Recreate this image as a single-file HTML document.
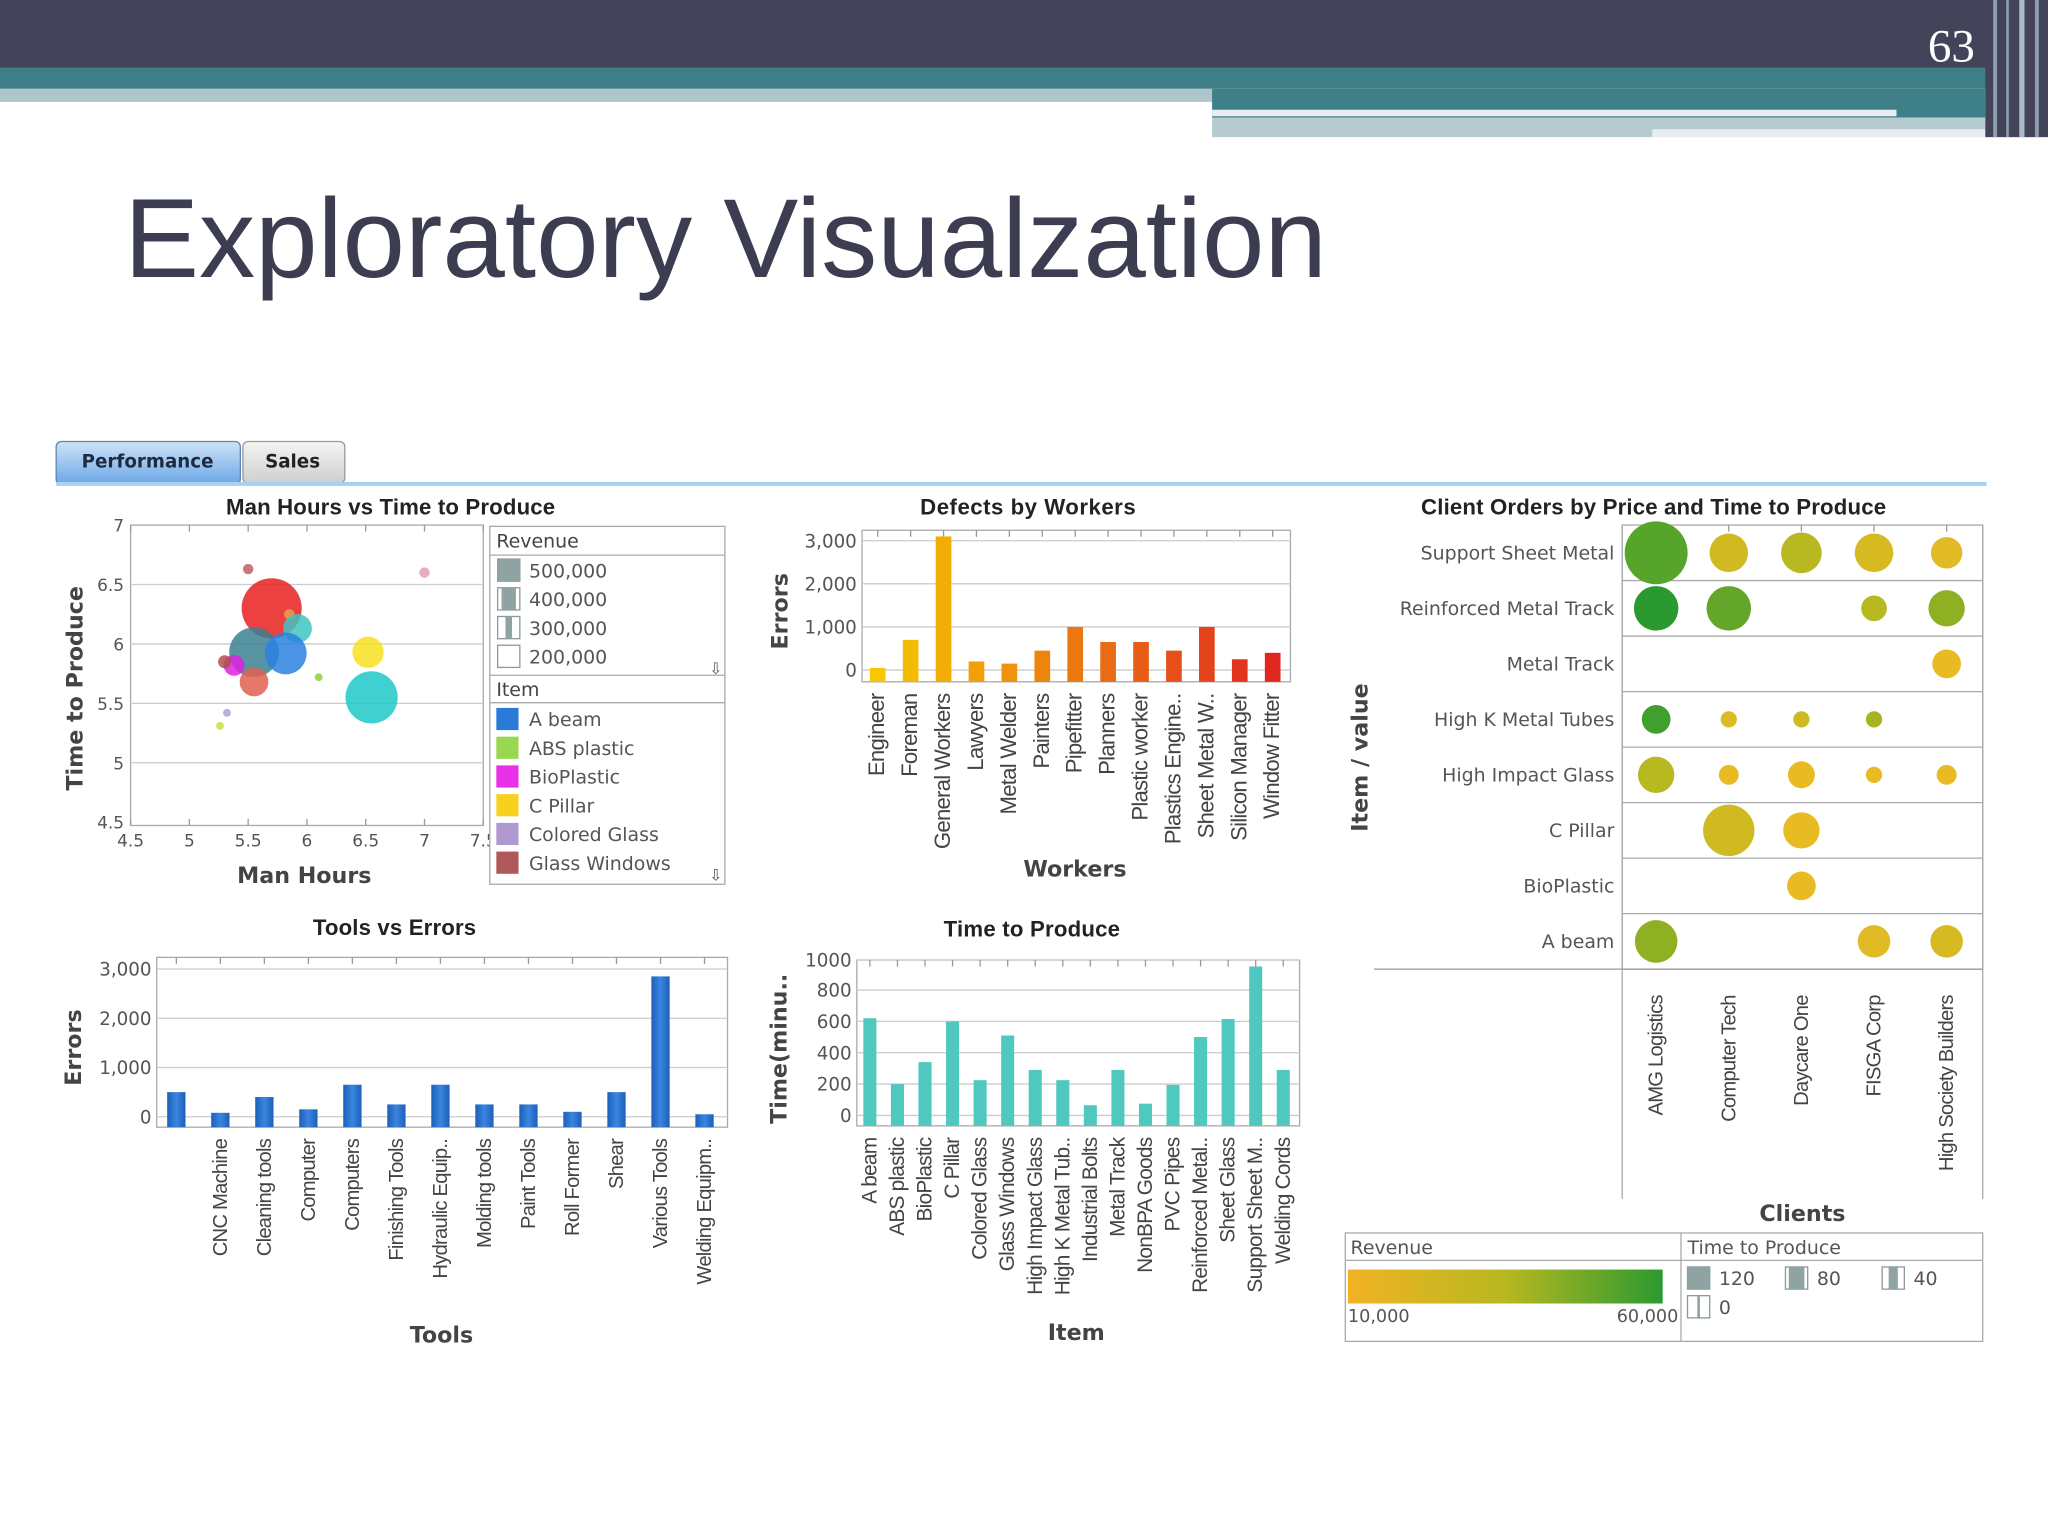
<!DOCTYPE html>
<html><head><meta charset="utf-8"><style>
html,body{margin:0;padding:0;background:#fff;}
svg{display:block;}
text{font-family:"DejaVu Sans","Liberation Sans",sans-serif;}
.ttl{font-family:"Liberation Sans",sans-serif;}
</style></head><body>
<svg id="s" width="2048" height="1536" viewBox="0 0 1568 1176" xmlns="http://www.w3.org/2000/svg">
<defs>
<linearGradient id="tabg" x1="0" y1="0" x2="0" y2="1"><stop offset="0" stop-color="#cfe3f7"/><stop offset="1" stop-color="#6aa6e6"/></linearGradient>
<linearGradient id="tabs" x1="0" y1="0" x2="0" y2="1"><stop offset="0" stop-color="#f4f4f4"/><stop offset="1" stop-color="#cfcfcf"/></linearGradient>
<linearGradient id="revg" x1="0" y1="0" x2="1" y2="0"><stop offset="0" stop-color="#f2b224"/><stop offset="0.5" stop-color="#b8b820"/><stop offset="1" stop-color="#2a9a30"/></linearGradient>
<linearGradient id="blueb" x1="0" y1="0" x2="1" y2="0"><stop offset="0" stop-color="#1c5fb8"/><stop offset="0.5" stop-color="#3a86e0"/><stop offset="1" stop-color="#1c5fb8"/></linearGradient>
</defs>
<g>
<rect x="0" y="0" width="1568" height="52" fill="#43435a"/>
<rect x="0" y="52" width="1568" height="16" fill="#3f7f87"/>
<rect x="0" y="68" width="928" height="10" fill="#adc6cc"/>
<rect x="928" y="68" width="592" height="22" fill="#3f7f87"/>
<rect x="928" y="84" width="524" height="5" fill="#e8eef0"/>
<rect x="928" y="90" width="592" height="15" fill="#b5cbd0"/>
<rect x="1265" y="99" width="255" height="6" fill="#e8eef0"/>
<rect x="1520" y="0" width="48" height="105" fill="#43435a"/>
<rect x="1526" y="0" width="3" height="105" fill="#8ea0b0"/>
<rect x="1536" y="0" width="2" height="105" fill="#8ea0b0"/>
<rect x="1546" y="0" width="4" height="105" fill="#a8bcc4"/>
<rect x="1558" y="0" width="3" height="105" fill="#8ea0b0"/>
<text x="1494" y="47" fill="#fff" font-size="36" text-anchor="middle" style="font-family:'Liberation Serif',serif">63</text>
</g>
<text class="ttl" x="95" y="212" font-size="86" fill="#3d3d52">Exploratory Visualzation</text>
<g><rect x="43" y="338" width="141" height="33" rx="4" fill="url(#tabg)" stroke="#5b87b8"/><text x="113" y="358" font-size="14" font-weight="bold" fill="#1e2a40" text-anchor="middle">Performance</text></g>
<g><rect x="186" y="338" width="78" height="32" rx="4" fill="url(#tabs)" stroke="#999"/><text x="224" y="358" font-size="14" font-weight="bold" fill="#222" text-anchor="middle">Sales</text></g>
<rect x="43" y="369" width="1478" height="3" fill="#a8d0f0"/>

<g id="c1"></g>
<g id="c2"></g>
<g id="c3"></g>
<g id="c4"></g>
<g id="c5"></g>
</svg>
<script>
const scatterX=[5.5,5.7,5.85,5.92,5.55,5.82,5.55,5.38,5.3,6.1,6.52,6.55,5.32,5.26,7.0];
const scatterY=[6.63,6.3,6.25,6.13,5.93,5.92,5.68,5.82,5.85,5.72,5.93,5.55,5.42,5.31,6.6];
const scatterR=[4,23,4,11,19,16,11,8,5,3,12,20,3,3,4];
const scatterC=["#c06060","#e82020","#e8a050","#40c4c4","#3a8090","#2a80e0","#e06050","#e020e0","#b05050","#90d040","#f8e020","#20c8c8","#b0a0d0","#c8e040","#e0a0b0"];
const scatterXTicks=[4.5,5,5.5,6,6.5,7,7.5];
const scatterYTicks=[4.5,5,5.5,6,6.5,7];
const revLegend=["500,000","400,000","300,000","200,000"];
const itemLegend=["A beam","ABS plastic","BioPlastic","C Pillar","Colored Glass","Glass Windows"];
const itemColors=["#2a7ad8","#98d850","#e830e8","#f8d020","#b098d0","#b05858"];

const workers=["Engineer","Foreman","General Workers","Lawyers","Metal Welder","Painters","Pipefitter","Planners","Plastic worker","Plastics Engine..","Sheet Metal W..","Silicon Manager","Window Fitter"];
const defects=[50,700,3100,200,150,450,1000,650,650,450,1000,250,400];
const defectTicks=[0,1000,2000,3000];

const tools=["","CNC Machine","Cleaning tools","Computer","Computers","Finishing Tools","Hydraulic Equip..","Molding tools","Paint Tools","Roll Former","Shear","Various Tools","Welding Equipm.."];
const toolErrors=[500,80,400,150,650,250,650,250,250,100,500,2850,50];
const toolTicks=[0,1000,2000,3000];

const items=["A beam","ABS plastic","BioPlastic","C Pillar","Colored Glass","Glass Windows","High Impact Glass","High K Metal Tub..","Industrial Bolts","Metal Track","NonBPA Goods","PVC Pipes","Reinforced Metal..","Sheet Glass","Support Sheet M..","Welding Cords"];
const itemTimes=[620,200,340,600,225,510,290,225,65,290,75,195,500,615,950,290];
const timeTicks=[0,200,400,600,800,1000];

const rowsC=["Support Sheet Metal","Reinforced Metal Track","Metal Track","High K Metal Tubes","High Impact Glass","C Pillar","BioPlastic","A beam"];
const clients=["AMG Logistics","Computer Tech","Daycare One","FISGA Corp","High Society Builders"];
const bubRow=[0,0,0,0,0,1,1,1,1,2,3,3,3,3,4,4,4,4,4,5,5,6,7,7,7];
const bubCol=[0,1,2,3,4,0,1,3,4,4,0,1,2,3,0,1,2,3,4,1,2,2,0,3,4];
const bubTime=[120,45,50,45,30,60,60,20,40,25,25,8,8,8,40,12,22,8,12,80,40,25,55,32,32];
const bubRev=[52000,25000,35000,22000,18000,60000,50000,35000,42000,15000,56000,20000,25000,38000,35000,15000,15000,15000,15000,25000,15000,15000,42000,18000,22000];

const NS="http://www.w3.org/2000/svg";
function mk(p,tag,at,txt){const e=document.createElementNS(NS,tag);for(const k in at)e.setAttribute(k,at[k]);if(txt!==undefined)e.textContent=txt;p.appendChild(e);return e;}
function lerpC(a,b,t){const pa=[1,3,5].map(i=>parseInt(a.substr(i,2),16)),pb=[1,3,5].map(i=>parseInt(b.substr(i,2),16));return "rgb("+pa.map((v,i)=>Math.round(v+(pb[i]-v)*t)).join(",")+")";}

(function(){
const g=document.getElementById('c1');
const X0=100,X1=370,Y0=402,Y1=632;
const sx=v=>X0+(v-4.5)/3*(X1-X0), sy=v=>493-(v-6)*91;
const t=mk(g,'text',{x:299,y:394,'font-size':17,'text-anchor':'middle',fill:'#222','class':'ttl','font-weight':'bold','textLength':252});
t.textContent='Man Hours vs Time to Produce';

mk(g,'rect',{x:X0,y:Y0,width:X1-X0,height:Y1-Y0,fill:'#fff',stroke:'#aaa'});
scatterYTicks.forEach(v=>{const y=sy(v);
 if(v>4.5&&v<7)mk(g,'line',{x1:X0,x2:X1,y1:y,y2:y,stroke:'#ccc'});
 const l=mk(g,'text',{x:95,y:y+5,'font-size':13,'text-anchor':'end',fill:'#555'},String(v));
 });
scatterXTicks.forEach(v=>{const x=sx(v);
 mk(g,'line',{x1:x,x2:x,y1:Y0,y2:Y0+5,stroke:'#999'});mk(g,'line',{x1:x,x2:x,y1:Y1,y2:Y1-5,stroke:'#999'});
 const l=mk(g,'text',{x:x,y:648,'font-size':13,'text-anchor':'middle',fill:'#555'},String(v));
 });
scatterX.forEach((v,i)=>{const c=mk(g,'circle',{cx:sx(v),cy:sy(scatterY[i]),r:scatterR[i],fill:scatterC[i],'fill-opacity':0.85});
 });
const xt=mk(g,'text',{x:233,y:676,'font-size':17,'font-weight':'bold','text-anchor':'middle',fill:'#444'},'Man Hours');

const yt=mk(g,'text',{x:0,y:0,'font-size':17,'font-weight':'bold','text-anchor':'middle',fill:'#444',transform:'translate(63,527) rotate(-90)'},'Time to Produce');

const lg=mk(g,'g',{});
mk(lg,'rect',{x:375,y:403,width:180,height:274,fill:'#fff',stroke:'#aaa'});
mk(lg,'line',{x1:375,x2:555,y1:425,y2:425,stroke:'#aaa'});
mk(lg,'line',{x1:375,x2:555,y1:517,y2:517,stroke:'#aaa'});
mk(lg,'line',{x1:375,x2:555,y1:538,y2:538,stroke:'#aaa'});
mk(lg,'text',{x:380,y:419,'font-size':14.5,fill:'#444'},'Revenue');
mk(lg,'text',{x:380,y:533,'font-size':14.5,fill:'#444'},'Item');
revLegend.forEach((s,i)=>{const y=436+i*22;
 mk(lg,'rect',{x:381,y:y-8,width:17,height:17,fill:'#fff',stroke:'#8a9a9a'});
 mk(lg,'rect',{x:381+i*3,y:y-8,width:17-i*6,height:17,fill:'#8fa3a3'});
 const e=mk(lg,'text',{x:405,y:y+6,'font-size':14.5,fill:'#555'},s);});
itemLegend.forEach((s,i)=>{const y=550+i*22;
 mk(lg,'rect',{x:380,y:y-8,width:17,height:17,fill:itemColors[i]});
 const e=mk(lg,'text',{x:405,y:y+6,'font-size':14.5,fill:'#555'},s);});
mk(lg,'text',{x:548,y:516,'font-size':12,fill:'#555','text-anchor':'middle'},'⇩');
mk(lg,'text',{x:548,y:674,'font-size':12,fill:'#555','text-anchor':'middle'},'⇩');
})();

function barChart(id,cfg){
const g=document.getElementById(id);
const {X0,X1,Y0,Y1,zeroY,perUnit,cats,vals,ticks,color,bw,first,step,title,tx,ty,tl,xTitle,xtx,xty,yTitle,ytx,yty,fmt,labFs}=cfg;
const sy=v=>Math.max(Y0,zeroY-v*perUnit);
const t=mk(g,'text',{x:tx,y:ty,'font-size':17,'text-anchor':'middle',fill:'#222','class':'ttl','font-weight':'bold',textLength:tl},title);

mk(g,'rect',{x:X0,y:Y0,width:X1-X0,height:Y1-Y0,fill:'#fff',stroke:'#aaa'});
ticks.forEach(v=>{const y=sy(v);
 mk(g,'line',{x1:X0,x2:X1,y1:y,y2:y,stroke:'#ccc'});
 const l=mk(g,'text',{x:X0-4,y:y+5,'font-size':14,'text-anchor':'end',fill:'#555'},fmt(v));
 });
cats.forEach((c,i)=>{const x=first+i*step;
 mk(g,'line',{x1:x,x2:x,y1:Y0,y2:Y0+5,stroke:'#999'});
 const top=sy(vals[i]);
 const b=mk(g,'rect',{x:x-bw/2,y:top,width:bw,height:Y1-top,fill:typeof color==='function'?color(i):color});
 
 if(c){const l=mk(g,'text',{x:0,y:0,'font-size':labFs,'text-anchor':'end',fill:'#444','class':'ttl',transform:`translate(${x+5},${Y1+9}) rotate(-90)`,'letter-spacing':'-0.6'},c);
 }});
const xt=mk(g,'text',{x:xtx,y:xty,'font-size':17,'font-weight':'bold','text-anchor':'middle',fill:'#444'},xTitle);

const yt=mk(g,'text',{x:0,y:0,'font-size':17,'font-weight':'bold','text-anchor':'middle',fill:'#444',transform:`translate(${ytx},${yty}) rotate(-90)`},yTitle);

}
const thou=v=>v.toLocaleString('en-US');
barChart('c2',{X0:660,X1:988,Y0:406,Y1:522,zeroY:513,perUnit:0.033,cats:workers,vals:defects,ticks:defectTicks,
 color:i=>lerpC('#f6c800','#e02820',i/(workers.length-1)),bw:12,first:672,step:25.2,title:'Defects by Workers',tx:787,ty:394,tl:165,
 xTitle:'Workers',xtx:823,xty:671,yTitle:'Errors',ytx:603,yty:468,fmt:thou,labFs:17});
barChart('c3',{X0:120,X1:557,Y0:733,Y1:863,zeroY:855,perUnit:0.0377,cats:tools,vals:toolErrors,ticks:toolTicks,
 color:'url(#blueb)',bw:14,first:135,step:33.7,title:'Tools vs Errors',tx:302,ty:716,tl:125,
 xTitle:'Tools',xtx:338,xty:1028,yTitle:'Errors',ytx:62,yty:802,fmt:thou,labFs:15.5});
barChart('c4',{X0:656,X1:995,Y0:735,Y1:862,zeroY:854,perUnit:0.12,cats:items,vals:itemTimes,ticks:timeTicks,
 color:'#4fc8c0',bw:10,first:666,step:21.1,title:'Time to Produce',tx:790,ty:717,tl:135,
 xTitle:'Item',xtx:824,xty:1026,yTitle:'Time(minu..',ytx:602,yty:803,fmt:v=>String(v),labFs:16});

(function(){
const g=document.getElementById('c5');
const X0=1242,X1=1518,Y0=402,RH=42.5,colX0=1268,colStep=55.6;
const t=mk(g,'text',{x:1266,y:394,'font-size':17,'text-anchor':'middle',fill:'#222','class':'ttl','font-weight':'bold',textLength:356},'Client Orders by Price and Time to Produce');

mk(g,'rect',{x:X0,y:Y0,width:X1-X0,height:RH*8,fill:'#fff',stroke:'#aaa'});
mk(g,'line',{x1:X0,x2:X0,y1:Y0,y2:918,stroke:'#aaa'});
mk(g,'line',{x1:X1,x2:X1,y1:Y0,y2:918,stroke:'#aaa'});
mk(g,'line',{x1:1052,x2:X1,y1:Y0+RH*8,y2:Y0+RH*8,stroke:'#999'});
rowsC.forEach((r,i)=>{const y=Y0+RH*i+RH/2;
 if(i>0)mk(g,'line',{x1:X0,x2:X1,y1:Y0+RH*i,y2:Y0+RH*i,stroke:'#aaa'});
 const l=mk(g,'text',{x:1236,y:y+5,'font-size':14.5,'text-anchor':'end',fill:'#555'},r);
 });
clients.forEach((c,i)=>{const x=colX0+i*colStep;
 mk(g,'line',{x1:x,x2:x,y1:Y0,y2:Y0+5,stroke:'#999'});
 const l=mk(g,'text',{x:0,y:0,'font-size':15.5,'text-anchor':'end',fill:'#444','class':'ttl','letter-spacing':'-0.6',transform:`translate(${x+5},${Y0+RH*8+20}) rotate(-90)`},c);
 });
bubRow.forEach((r,i)=>{const cx=colX0+bubCol[i]*colStep, cy=Y0+RH*r+RH/2;
 const rad=Math.sqrt(bubTime[i])*2.2;
 const tt=(bubRev[i]-10000)/50000;
 const col=tt<0.5?lerpC('#f4bc24','#b8b820',tt*2):lerpC('#b8b820','#2a9a30',(tt-0.5)*2);
 const c=mk(g,'circle',{cx:cx,cy:cy,r:rad,fill:col});
 });
const xt=mk(g,'text',{x:1380,y:935,'font-size':17,'font-weight':'bold','text-anchor':'middle',fill:'#444'},'Clients');

const yt=mk(g,'text',{x:0,y:0,'font-size':17,'font-weight':'bold','text-anchor':'middle',fill:'#444',transform:'translate(1047,580) rotate(-90)'},'Item / value');

const lg=mk(g,'g',{});
mk(lg,'rect',{x:1030,y:944,width:488,height:83,fill:'#fff',stroke:'#aaa'});
mk(lg,'line',{x1:1287,x2:1287,y1:944,y2:1027,stroke:'#aaa'});
mk(lg,'line',{x1:1030,x2:1518,y1:965,y2:965,stroke:'#aaa'});
mk(lg,'text',{x:1034,y:960,'font-size':14.5,fill:'#555'},'Revenue');
mk(lg,'text',{x:1292,y:960,'font-size':14.5,fill:'#555'},'Time to Produce');
mk(lg,'rect',{x:1032,y:972,width:241,height:26,fill:'url(#revg)'});
mk(lg,'text',{x:1032,y:1012,'font-size':13.5,fill:'#555'},'10,000');
mk(lg,'text',{x:1285,y:1012,'font-size':13.5,fill:'#555','text-anchor':'end'},'60,000');
[['120',1292,978],['80',1367,978],['40',1441,978],['0',1292,1000]].forEach((e,i)=>{
 mk(lg,'rect',{x:e[1],y:e[2]-8,width:17,height:17,fill:'#fff',stroke:'#8a9a9a'});
 mk(lg,'rect',{x:e[1]+i*2.5,y:e[2]-8,width:Math.max(0,17-i*5),height:17,fill:'#8fa3a3'});
 const t=mk(lg,'text',{x:e[1]+24,y:e[2]+6,'font-size':14.5,fill:'#555'},e[0]);});
})();
</script>
</body></html>
